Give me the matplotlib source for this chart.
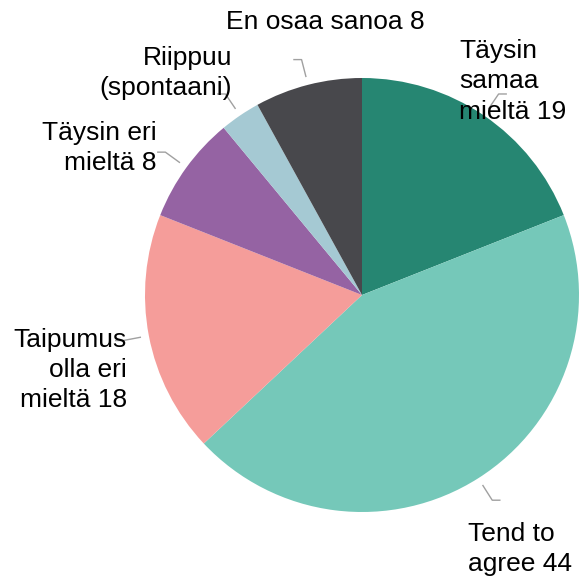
import numpy as np
import matplotlib
matplotlib.use('Agg')
import matplotlib.pyplot as plt

# Data
labels = ['Täysin\nsamaa\nmieltä', 'Tend to\nagree', 'Taipumus\nolla eri\nmieltä',
          'Täysin eri\nmieltä', 'Riippuu\n(spontaani)', 'En osaa sanoa']
values = [19, 44, 18, 8, 3, 8]
show_value = [True, True, True, True, False, True]
colors = ['#268672', '#75c8b9', '#f59d9a', '#9563a3', '#a5c9d3', '#48484c']

# label placement (data units, pie radius = 1)
label_pos = [(0.447, 0.985), (0.488, -1.17), (-1.083, -0.346),
             (-0.945, 0.677), (-0.599, 1.023), (-0.17, 1.26)]
label_ha = ['left', 'left', 'right', 'right', 'right', 'center']

plt.rcParams['font.family'] = ['Liberation Sans', 'DejaVu Sans']

fig = plt.figure(figsize=(5.87, 5.79), dpi=100)
ax = fig.add_axes([0, 0, 1, 1])
ax.pie(values, colors=colors, startangle=90, counterclock=False,
       radius=1.0, wedgeprops=dict(linewidth=0))

# leader lines and labels
total = sum(values)
angle = 90.0
for i, v in enumerate(values):
    span = 360.0 * v / total
    mid = np.deg2rad(angle - span / 2)
    angle -= span
    x0, y0 = 1.04 * np.cos(mid), 1.04 * np.sin(mid)
    x1, y1 = 1.12 * np.cos(mid), 1.12 * np.sin(mid)
    x2 = x1 + (0.035 if np.cos(mid) > 0 else -0.035)
    ax.plot([x0, x1, x2], [y0, y1, y1], color='#a0a0a0', lw=1, zorder=1)
    txt = labels[i] + (' %d' % v if show_value[i] else '')
    ax.text(label_pos[i][0], label_pos[i][1], txt, ha=label_ha[i], va='center',
            multialignment=label_ha[i], fontsize=19, linespacing=1.33, zorder=3)

ax.set_xlim(-362 / 217, (587 - 362) / 217)
ax.set_ylim(-(579 - 295) / 217, 295 / 217)
ax.set_aspect('auto')
ax.axis('off')

fig.savefig('out.png', dpi=100)
